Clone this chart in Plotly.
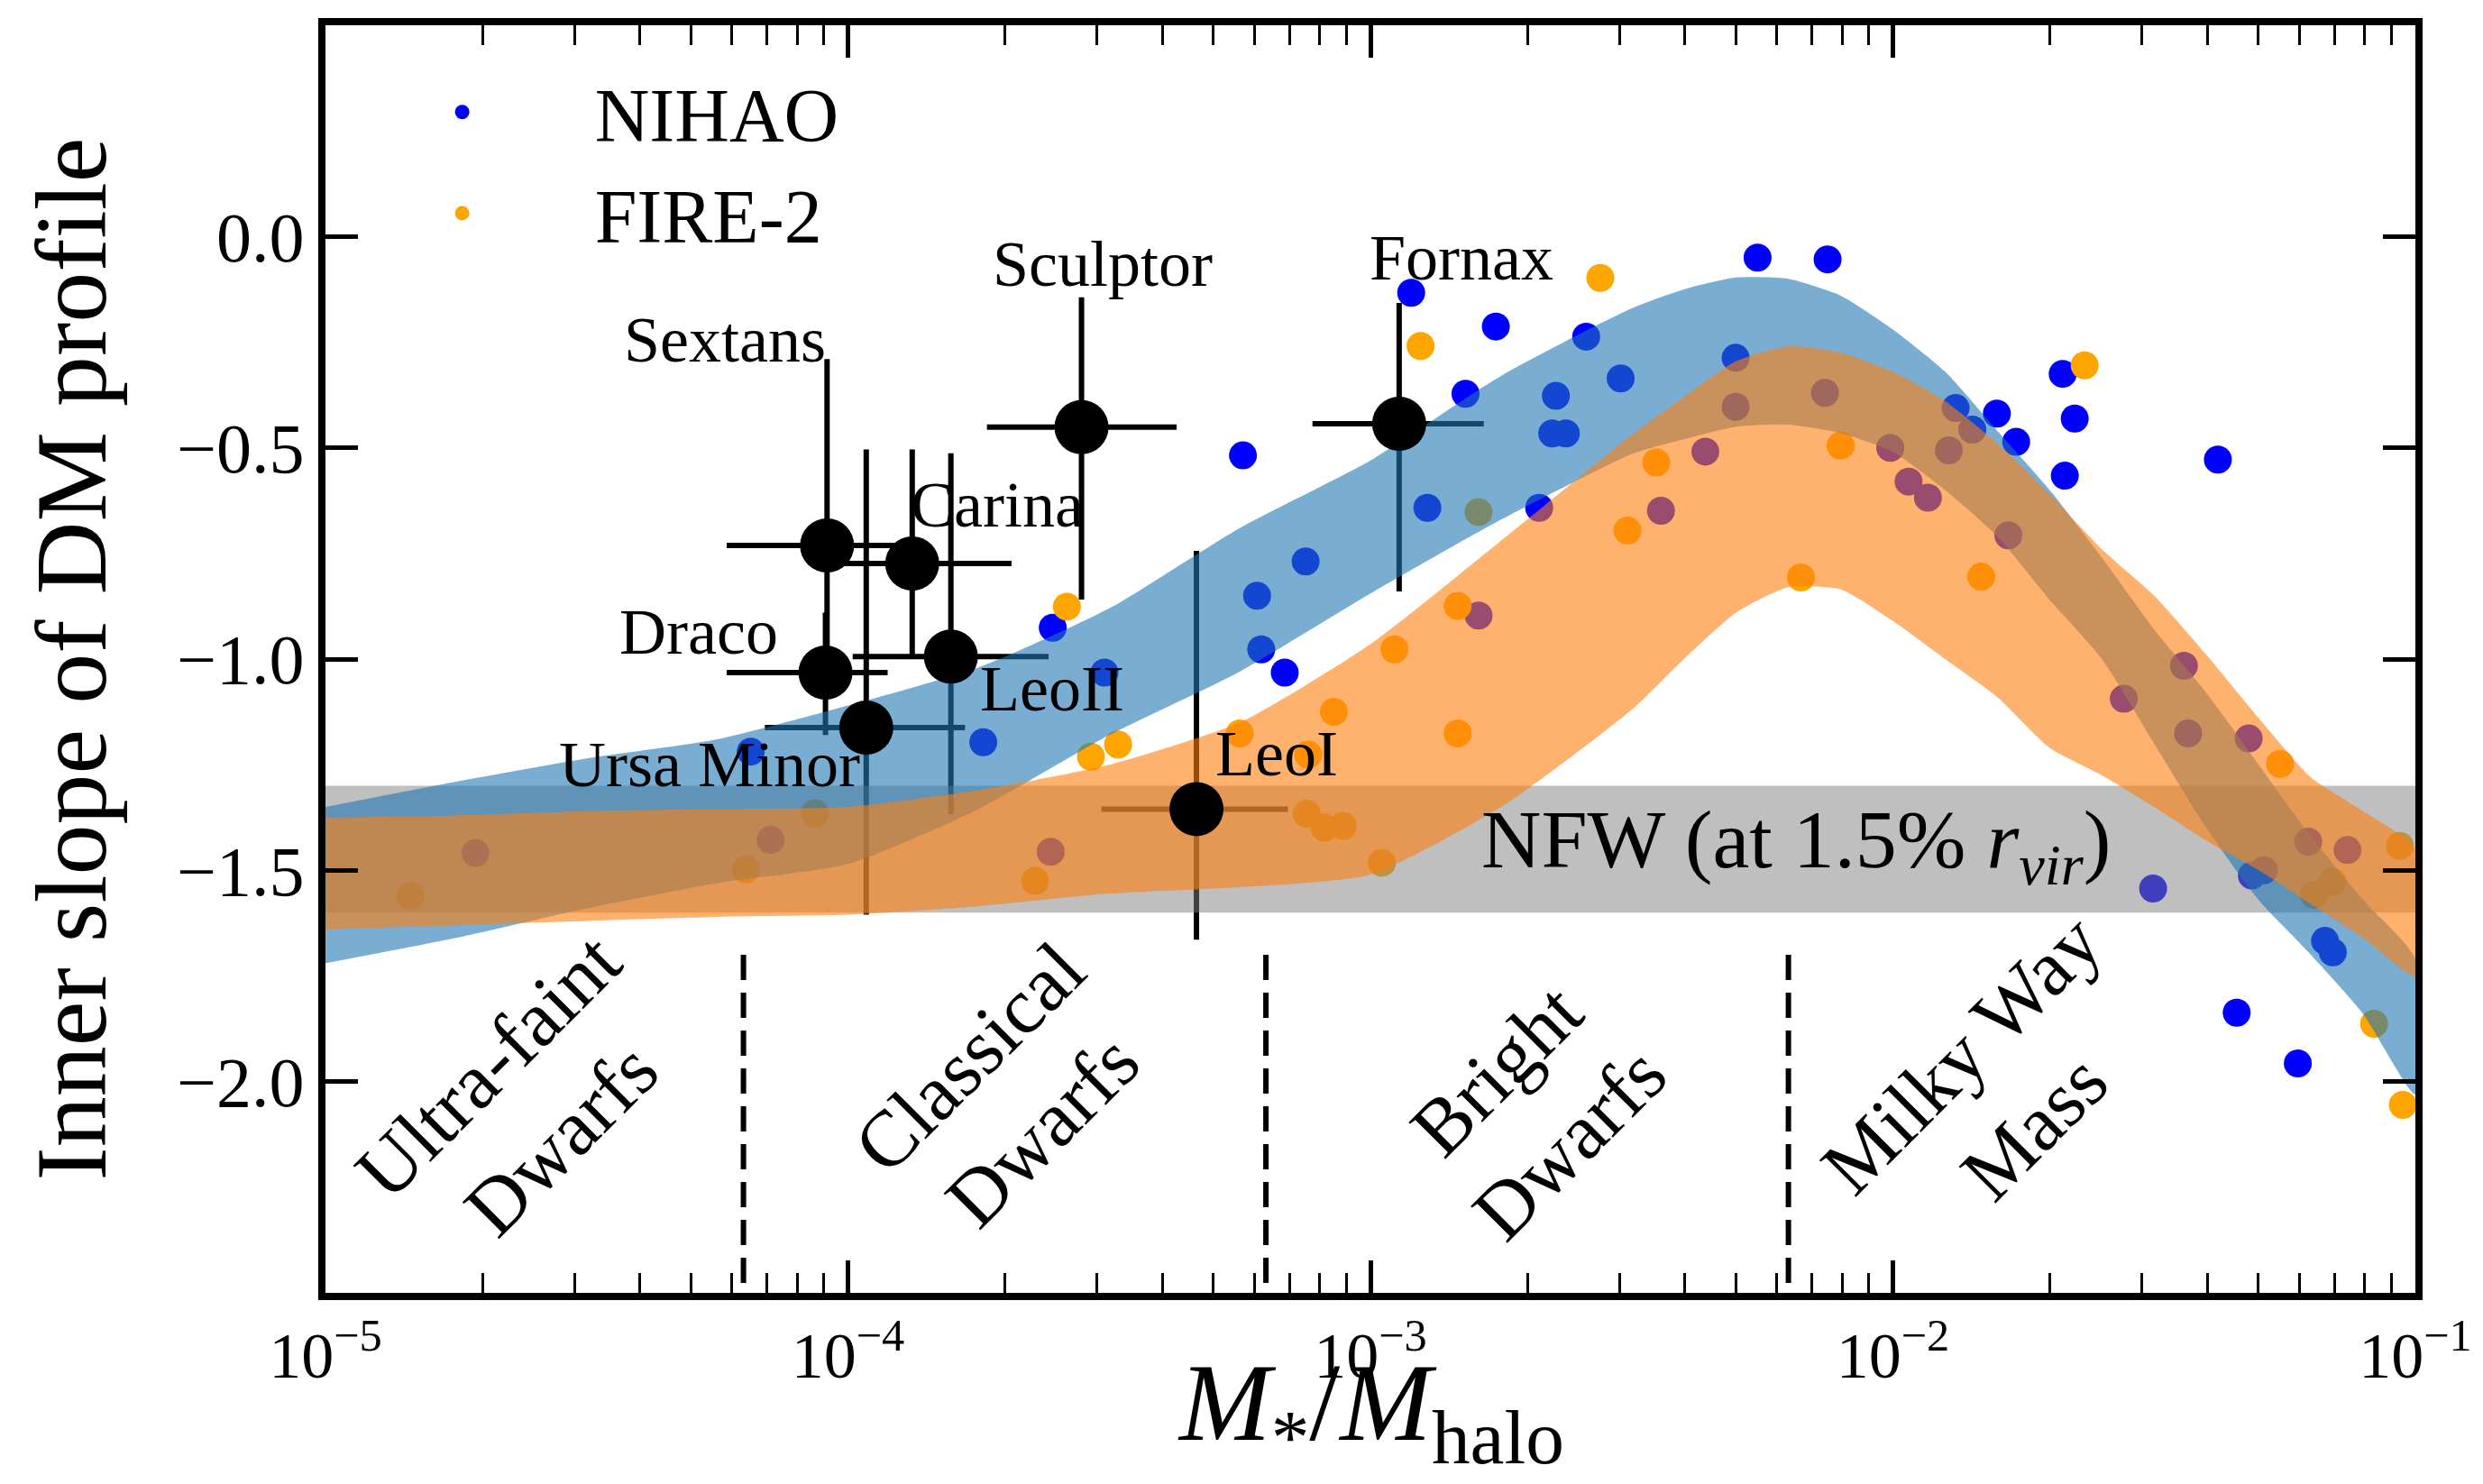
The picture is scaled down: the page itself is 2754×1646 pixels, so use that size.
import plotly.graph_objects as go

# ---------------- data ----------------
# NIHAO simulated galaxies: log10(M*/Mhalo) and inner DM slope
nihao_logx = [-4.713, -4.186, -4.148, -3.741, -3.612, -3.608, -3.509, -3.244, -3.217, -3.209,
              -3.164, -3.124, -2.922, -2.891, -2.818, -2.793, -2.760, -2.677, -2.652, -2.645,
              -2.626, -2.587, -2.521, -2.444, -2.359, -2.301, -2.301, -2.259, -2.130, -2.125,
              -2.005, -1.970, -1.933, -1.893, -1.880, -1.848, -1.801, -1.779, -1.764, -1.675,
              -1.671, -1.652, -1.558, -1.502, -1.443, -1.435, -1.378, -1.342, -1.319, -1.313,
              -1.290, -1.225, -1.205, -1.173, -1.158, -1.130]
nihao_slope = [-1.459, -1.219, -1.428, -1.197, -1.456, -0.926, -1.032, -0.518, -0.850, -0.977,
               -1.032, -0.769, -0.133, -0.642, -0.372, -0.897, -0.213, -0.642, -0.466, -0.377,
               -0.466, -0.237, -0.336, -0.649, -0.509, -0.287, -0.403, -0.050, -0.370, -0.054,
               -0.500, -0.580, -0.618, -0.506, -0.406, -0.457, -0.419, -0.707, -0.486, -0.325,
               -0.566, -0.431, -1.094, -1.543, -1.016, -1.176, -0.528, -1.837, -1.188, -1.512,
               -1.500, -1.957, -1.432, -1.667, -1.694, -1.452]

# FIRE-2 simulated galaxies
fire_logx = [-4.837, -4.195, -4.063, -3.642, -3.581, -3.535, -3.483, -3.250, -3.122, -3.119,
             -3.088, -3.070, -3.053, -2.978, -2.954, -2.904, -2.833, -2.833, -2.793, -2.560,
             -2.508, -2.453, -2.176, -2.100, -1.831, -1.633, -1.259, -1.194, -1.159, -1.079,
             -1.030, -1.024]
fire_slope = [-1.560, -1.498, -1.365, -1.525, -0.876, -1.231, -1.202, -1.176, -1.366, -1.226,
              -1.399, -1.125, -1.395, -1.482, -0.977, -0.259, -0.874, -1.176, -0.652, -0.098,
              -0.696, -0.535, -0.807, -0.495, -0.805, -0.305, -1.248, -1.558, -1.527, -1.863,
              -1.442, -2.055]

# 1-sigma bands (log10 x grid)
band_logx = [-5.0, -4.75, -4.5, -4.25, -4.0, -3.75, -3.5, -3.25, -3.0, -2.75, -2.5, -2.4, -2.3,
             -2.2, -2.1, -2.0, -1.9, -1.8, -1.7, -1.6, -1.5, -1.4, -1.3, -1.2, -1.1, -1.0]
nihao_hi = [-1.35, -1.29, -1.235, -1.19, -1.11, -1.02, -0.88, -0.69, -0.53, -0.33, -0.17, -0.125,
            -0.097, -0.10, -0.14, -0.22, -0.32, -0.46, -0.60, -0.76, -0.93, -1.08, -1.25, -1.42,
            -1.57, -1.71]
nihao_lo = [-1.72, -1.66, -1.59, -1.53, -1.485, -1.355, -1.18, -1.03, -0.845, -0.67, -0.515, -0.48,
            -0.45, -0.445, -0.465, -0.51, -0.60, -0.71, -0.86, -1.0, -1.2, -1.40, -1.57, -1.70,
            -1.84, -2.03]
fire_hi = [-1.375, -1.37, -1.36, -1.355, -1.35, -1.31, -1.25, -1.15, -0.965, -0.72, -0.47, -0.38,
           -0.295, -0.26, -0.275, -0.32, -0.39, -0.49, -0.61, -0.74, -0.85, -0.99, -1.14, -1.28,
           -1.36, -1.45]
fire_lo = [-1.64, -1.63, -1.62, -1.61, -1.605, -1.585, -1.555, -1.54, -1.51, -1.35, -1.12, -1.0,
           -0.89, -0.83, -0.835, -0.91, -1.0, -1.09, -1.21, -1.275, -1.35, -1.43, -1.50, -1.58,
           -1.66, -1.75]

# NFW band
nfw_lo, nfw_hi = -1.6, -1.3
nfw_label = "NFW (at 1.5% <i>r</i><sub><i>vir</i></sub>)"
nfw_label_logx, nfw_label_slope = -2.185, -1.44

# Observed Local Group dwarfs
gal_names = ["Sextans", "Draco", "Carina", "Ursa Minor", "LeoII", "Sculptor", "LeoI", "Fornax"]
gal_logx = [-4.040, -4.043, -3.877, -3.965, -3.803, -3.553, -3.333, -2.945]
gal_logx_lo = [-4.232, -4.232, -4.006, -4.159, -3.991, -3.734, -3.515, -3.111]
gal_logx_hi = [-3.848, -3.924, -3.687, -3.776, -3.616, -3.371, -3.158, -2.783]
gal_slope = [-0.731, -1.032, -0.774, -1.162, -0.994, -0.451, -1.355, -0.443]
gal_slope_lo = [-1.00, -1.18, -0.99, -1.605, -1.367, -0.859, -1.664, -0.84]
gal_slope_hi = [-0.29, -0.89, -0.504, -0.504, -0.513, -0.144, -0.744, -0.157]
label_logx = [-4.235, -4.285, -3.715, -4.265, -3.610, -3.513, -3.179, -2.826]
label_slope = [-0.245, -0.935, -0.635, -1.25, -1.07, -0.065, -1.225, -0.05]

# Mass regimes
regime_bounds_logx = [-4.2, -3.2, -2.2]
regime_line_top = -1.7
regime_names = ["Ultra-faint<br>Dwarfs", "Classical<br>Dwarfs", "Bright<br>Dwarfs", "Milky Way<br>Mass"]
regime_logx = [-4.62, -3.698, -2.689, -1.80]
regime_slope = [-2.05, -2.03, -2.06, -2.02]

# axes
x_range_log = [-5, -1]
y_range = [-2.5, 0.5]
y_ticks = [-2.0, -1.5, -1.0, -0.5, 0.0]
x_major_exp = [-5, -4, -3, -2, -1]
x_title = "<i>M</i><sub>*</sub>/<i>M</i><sub>halo</sub>"
y_title = "Inner slope of DM profile"

# ---------------- figure ----------------
FONT = "Liberation Serif, Times New Roman, DejaVu Serif, serif"
p10 = lambda v: 10 ** v

fig = go.Figure()

fig.add_trace(go.Scatter(x=[p10(v) for v in nihao_logx], y=nihao_slope, mode="markers",
                         name="NIHAO", marker=dict(color="#0000ff", size=31, line=dict(width=0)),
                         hoverinfo="skip"))
fig.add_trace(go.Scatter(x=[p10(v) for v in fire_logx], y=fire_slope, mode="markers",
                         name="FIRE-2", marker=dict(color="#ffa500", size=31, line=dict(width=0)),
                         hoverinfo="skip"))

gx = [p10(v) for v in gal_logx]
ex_plus = [p10(h) - p10(c) for h, c in zip(gal_logx_hi, gal_logx)]
ex_minus = [p10(c) - p10(l) for l, c in zip(gal_logx_lo, gal_logx)]
ey_plus = [h - c for h, c in zip(gal_slope_hi, gal_slope)]
ey_minus = [c - l for l, c in zip(gal_slope_lo, gal_slope)]
fig.add_trace(go.Scatter(x=gx, y=gal_slope, mode="markers",
                         marker=dict(size=2, color="rgba(0,0,0,0)"),
                         error_x=dict(type="data", symmetric=False, array=ex_plus, arrayminus=ex_minus,
                                      color="black", thickness=6, width=0),
                         error_y=dict(type="data", symmetric=False, array=ey_plus, arrayminus=ey_minus,
                                      color="black", thickness=6, width=0),
                         showlegend=False, hoverinfo="skip"))

# NFW grey band
xa, xb = p10(x_range_log[0]), p10(x_range_log[1])
fig.add_trace(go.Scatter(x=[xa, xb, xb, xa, xa], y=[nfw_lo, nfw_lo, nfw_hi, nfw_hi, nfw_lo],
                         mode="lines", fill="toself", fillcolor="rgba(128,128,128,0.5)",
                         line=dict(width=0), showlegend=False, hoverinfo="skip"))

bx = [p10(v) for v in band_logx]
fig.add_trace(go.Scatter(x=bx + bx[::-1], y=nihao_hi + nihao_lo[::-1], mode="lines", fill="toself",
                         fillcolor="rgba(31,119,180,0.6)", line=dict(width=0, shape="spline", smoothing=0.6),
                         showlegend=False, hoverinfo="skip"))
fig.add_trace(go.Scatter(x=bx + bx[::-1], y=fire_hi + fire_lo[::-1], mode="lines", fill="toself",
                         fillcolor="rgba(255,127,14,0.6)", line=dict(width=0, shape="spline", smoothing=0.6),
                         showlegend=False, hoverinfo="skip"))

fig.add_trace(go.Scatter(x=gx, y=gal_slope, mode="markers",
                         marker=dict(size=60, color="black", line=dict(width=0)),
                         showlegend=False, hoverinfo="skip"))

for b in regime_bounds_logx:
    fig.add_trace(go.Scatter(x=[p10(b), p10(b)], y=[regime_line_top, y_range[0]], mode="lines",
                             line=dict(color="black", width=6, dash="28px,14px"),
                             showlegend=False, hoverinfo="skip"))

ann = []
for n, lx, ly in zip(gal_names, label_logx, label_slope):
    ann.append(dict(x=lx, y=ly, xref="x", yref="y", text=n, showarrow=False,
                    font=dict(family=FONT, size=72, color="black")))
for n, lx, ly in zip(regime_names, regime_logx, regime_slope):
    ann.append(dict(x=lx, y=ly, xref="x", yref="y", text=n, showarrow=False, textangle=-45,
                    align="center", font=dict(family=FONT, size=88, color="black")))
ann.append(dict(x=nfw_label_logx, y=nfw_label_slope, xref="x", yref="y", text=nfw_label,
                showarrow=False, font=dict(family=FONT, size=92, color="black")))
# x-axis title
ann.append(dict(x=0.5, y=-0.093, xref="paper", yref="paper", text=x_title, showarrow=False,
                xanchor="center", yanchor="middle", font=dict(family=FONT, size=122, color="black")))

minor_vals = [m * 10 ** e for e in x_major_exp[:-1] for m in range(2, 10)]

fig.update_layout(
    width=2754, height=1646,
    margin=dict(l=353, r=83, t=18, b=220),
    paper_bgcolor="white", plot_bgcolor="white",
    font=dict(family=FONT, color="black"),
    annotations=ann,
    showlegend=True,
    legend=dict(x=0.002, y=0.975, xanchor="left", yanchor="top", bgcolor="rgba(0,0,0,0)",
                font=dict(family=FONT, size=84), itemwidth=284, itemsizing="trace"),
    xaxis=dict(type="log", range=x_range_log, showgrid=False, zeroline=False,
               showline=True, linewidth=8, linecolor="black", mirror="allticks",
               ticks="inside", ticklen=36, tickwidth=5, tickcolor="black",
               tickvals=[p10(e) for e in x_major_exp],
               ticktext=["10<sup>\u2212%d</sup>" % (-e) for e in x_major_exp],
               tickfont=dict(family=FONT, size=72),
               minor=dict(tickvals=minor_vals, ticks="inside", ticklen=22, tickwidth=2.5,
                          tickcolor="black", showgrid=False)),
    yaxis=dict(range=y_range, showgrid=False, zeroline=False,
               showline=True, linewidth=8, linecolor="black", mirror="allticks",
               ticks="inside", ticklen=36, tickwidth=5, tickcolor="black",
               tickvals=y_ticks, tickformat=".1f",
               tickfont=dict(family=FONT, size=78),
               title=dict(text=y_title, font=dict(family=FONT, size=112), standoff=44)),
)

fig.write_html("out.html")
